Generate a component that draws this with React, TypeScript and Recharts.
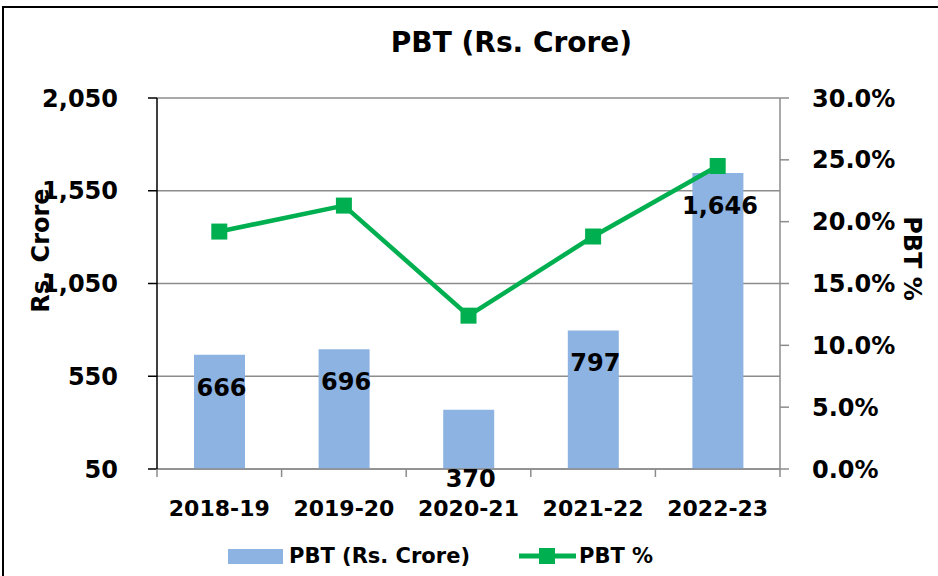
import {
  ComposedChart,
  Bar,
  Line,
  XAxis,
  YAxis,
  CartesianGrid,
  Legend,
  LabelList,
} from 'recharts';

const years = ['2018-19', '2019-20', '2020-21', '2021-22', '2022-23'];
const pbtCrore = [666, 696, 370, 797, 1646];
const pbtPct = [19.2, 21.3, 12.4, 18.8, 24.5];
const leftTicks = [50, 550, 1050, 1550, 2050];
const rightTicks = [0, 5, 10, 15, 20, 25, 30];

const data = years.map((year, i) => ({ year, pbt: pbtCrore[i], pct: pbtPct[i] }));

const FONT = '"DejaVu Sans", sans-serif';
const BAR_COLOR = '#8DB3E2';
const LINE_COLOR = '#00B050';
const GRID = '#8C8C8C';

const W = 938;
const H = 576;
const PLOT_LEFT = 157;
const PLOT_RIGHT = 780;
const HALF_BAND = (PLOT_RIGHT - PLOT_LEFT) / years.length / 2;

const fmtNum = (v: number) => v.toLocaleString('en-US');

const XTick = (props: any) => {
  const { x, y, payload, index } = props;
  return (
    <g>
      <line x1={x - HALF_BAND} x2={x - HALF_BAND} y1={y} y2={y + 8} stroke={GRID} strokeWidth={1.5} />
      {index === years.length - 1 && (
        <line x1={x + HALF_BAND} x2={x + HALF_BAND} y1={y} y2={y + 8} stroke={GRID} strokeWidth={1.5} />
      )}
      <text
        x={x}
        y={y + 39}
        textAnchor="middle"
        dominantBaseline="central"
        fill="#000"
        fontSize={22}
        fontWeight={700}
        fontFamily={FONT}
      >
        {payload.value}
      </text>
    </g>
  );
};

// labels sit inside the bar top; the 2020-21 one was pushed below the axis
const BarValueLabel = (props: any) => {
  const { x, y, width, value, index } = props;
  const dy = index === 2 ? 69 : 33;
  return (
    <text
      x={x + width / 2 + 2}
      y={y + dy}
      textAnchor="middle"
      dominantBaseline="central"
      fill="#000"
      fontSize={24}
      fontWeight={700}
      fontFamily={FONT}
    >
      {fmtNum(value)}
    </text>
  );
};

const SquareDot = (props: any) => {
  const { cx, cy } = props;
  if (cx == null || cy == null) return null;
  return <rect x={cx - 8} y={cy - 8} width={16} height={16} fill={LINE_COLOR} />;
};

const LeftTitle = (props: any) => {
  const { viewBox } = props;
  const cx = viewBox.x + 41;
  const cy = viewBox.y + viewBox.height / 2 - 33;
  return (
    <text
      x={cx}
      y={cy}
      transform={`rotate(-90, ${cx}, ${cy})`}
      textAnchor="middle"
      dominantBaseline="central"
      fill="#000"
      fontSize={24}
      fontWeight={700}
      fontFamily={FONT}
    >
      Rs. Crore
    </text>
  );
};

const RightTitle = (props: any) => {
  const { viewBox } = props;
  const cx = viewBox.x + 132;
  const cy = viewBox.y + viewBox.height / 2 - 25;
  return (
    <text
      x={cx}
      y={cy}
      transform={`rotate(90, ${cx}, ${cy})`}
      textAnchor="middle"
      dominantBaseline="central"
      fill="#000"
      fontSize={24}
      fontWeight={700}
      fontFamily={FONT}
    >
      PBT %
    </text>
  );
};

const LegendContent = () => (
  <div
    style={{
      display: 'flex',
      alignItems: 'center',
      height: 30,
      paddingLeft: 228,
      fontFamily: FONT,
      fontWeight: 700,
      fontSize: 21,
      color: '#000',
    }}
  >
    <span style={{ display: 'inline-block', width: 55, height: 15, background: BAR_COLOR }} />
    <span style={{ marginLeft: 6 }}>PBT (Rs. Crore)</span>
    <svg width={57} height={20} style={{ marginLeft: 49 }}>
      <line x1={0} x2={57} y1={10} y2={10} stroke={LINE_COLOR} strokeWidth={5} />
      <rect x={20} y={2} width={16} height={16} fill={LINE_COLOR} />
    </svg>
    <span style={{ marginLeft: 3 }}>PBT %</span>
  </div>
);

export default function App() {
  return (
    <div
      style={{
        position: 'fixed',
        left: 0,
        top: 0,
        width: W,
        height: H,
        overflow: 'hidden',
        background: '#fff',
      }}
    >
      <div
        style={{
          position: 'absolute',
          left: 2,
          top: 6,
          width: 1000,
          height: 1000,
          border: '2px solid #000',
        }}
      />
      <div
        style={{
          position: 'absolute',
          left: 511.5,
          top: 28.6,
          transform: 'translateX(-50%)',
          whiteSpace: 'nowrap',
          fontFamily: FONT,
          fontWeight: 700,
          fontSize: 28,
          lineHeight: '28px',
          color: '#000',
        }}
      >
        PBT (Rs. Crore)
      </div>
      <ComposedChart
        width={W}
        height={H}
        data={data}
        margin={{ top: 98, right: 0, bottom: 0, left: 0 }}
        style={{ position: 'absolute', left: 0, top: 0 }}
      >
        <CartesianGrid yAxisId="left" vertical={false} stroke={GRID} strokeWidth={1.5} />
        <XAxis
          dataKey="year"
          height={77}
          tick={<XTick />}
          tickLine={false}
          tickSize={0}
          tickMargin={0}
          axisLine={{ stroke: GRID, strokeWidth: 1.5 }}
          interval={0}
        />
        <YAxis
          yAxisId="left"
          width={157}
          domain={[50, 2050]}
          ticks={leftTicks}
          tickFormatter={fmtNum}
          tickSize={9}
          tickMargin={30}
          axisLine={{ stroke: '#000', strokeWidth: 1.5 }}
          tickLine={{ stroke: '#000', strokeWidth: 1.5 }}
          tick={{ fill: '#000', fontSize: 24, fontWeight: 700, fontFamily: FONT }}
          label={<LeftTitle />}
        />
        <YAxis
          yAxisId="right"
          orientation="right"
          width={158}
          domain={[0, 30]}
          ticks={rightTicks}
          tickFormatter={(v: number) => `${v.toFixed(1)}%`}
          tickSize={9}
          tickMargin={23}
          axisLine={{ stroke: GRID, strokeWidth: 1.5 }}
          tickLine={{ stroke: GRID, strokeWidth: 1.5 }}
          tick={{ fill: '#000', fontSize: 24, fontWeight: 700, fontFamily: FONT }}
          label={<RightTitle />}
        />
        <Legend
          content={<LegendContent />}
          verticalAlign="bottom"
          wrapperStyle={{ top: 541, bottom: 'auto', left: 0, width: W, height: 30 }}
        />
        <Bar
          yAxisId="left"
          dataKey="pbt"
          name="PBT (Rs. Crore)"
          fill={BAR_COLOR}
          barSize={51}
          isAnimationActive={false}
        >
          <LabelList dataKey="pbt" content={<BarValueLabel />} />
        </Bar>
        <Line
          yAxisId="right"
          dataKey="pct"
          name="PBT %"
          stroke={LINE_COLOR}
          strokeWidth={4.5}
          dot={<SquareDot />}
          activeDot={false}
          isAnimationActive={false}
        />
      </ComposedChart>
    </div>
  );
}
